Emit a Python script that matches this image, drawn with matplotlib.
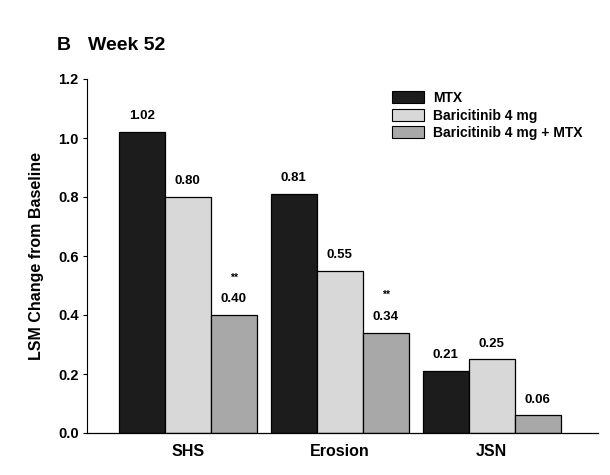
import matplotlib
matplotlib.use("Agg")
import matplotlib.pyplot as plt
import numpy as np
from matplotlib.patches import Patch

plt.rcParams['font.family'] = ['Liberation Sans', 'DejaVu Sans']
plt.rcParams['font.weight'] = 'bold'

categories = ["SHS", "Erosion", "JSN"]
series_names = ["MTX", "Baricitinib 4 mg", "Baricitinib 4 mg + MTX"]
mtx = [1.02, 0.81, 0.21]
bari = [0.80, 0.55, 0.25]
combo = [0.40, 0.34, 0.06]
combo_sig = ["**", "**", ""]
yticks = [0.0, 0.2, 0.4, 0.6, 0.8, 1.0, 1.2]

colors = ["#1c1c1c", "#d8d8d8", "#a8a8a8"]

fig = plt.figure(figsize=(6.1, 4.75), dpi=100)
ax = fig.add_axes([87/610, 1 - 433/475, (598-87)/610, (433-79)/475])

x = np.arange(len(categories))
w = 0.303
series = [mtx, bari, combo]
for i, (vals, c) in enumerate(zip(series, colors)):
    bars = ax.bar(x + (i - 1) * w, vals, w, color=c, edgecolor="black", linewidth=0.9)
    for j, b in enumerate(bars):
        v = vals[j]
        ax.text(b.get_x() + b.get_width() / 2, v + 0.033, f"{v:.2f}",
                ha="center", va="bottom", fontsize=9.5, fontweight="bold")
        if i == 2 and combo_sig[j]:
            ax.text(b.get_x() + b.get_width() / 2, v + 0.11, combo_sig[j],
                    ha="center", va="bottom", fontsize=7.5, fontweight="bold")

ax.set_xlim(-0.664, 2.70)
ax.set_ylim(0, 1.2)
ax.set_yticks(yticks)
ax.set_yticklabels([f"{t:.1f}" for t in yticks], fontsize=10.5, fontweight="bold")
ax.set_xticks(x)
ax.set_xticklabels(categories, fontsize=11.5, fontweight="bold")
ax.tick_params(axis="x", length=0, pad=8)
ax.tick_params(axis="y", length=3, width=0.8, pad=3)
ax.spines["top"].set_visible(False)
ax.spines["right"].set_visible(False)
ax.spines["left"].set_linewidth(0.8)
ax.spines["bottom"].set_linewidth(0.9)
ax.set_ylabel("LSM Change from Baseline", fontsize=11.5, fontweight="bold", labelpad=10)

handles = [Patch(facecolor=c, edgecolor="black", linewidth=0.8) for c in colors]
ax.legend(handles, series_names, loc="upper left", bbox_to_anchor=(0.597, 0.966),
          frameon=False, handlelength=2.3, handleheight=1.0,
          labelspacing=0.25, handletextpad=0.65, borderaxespad=0, borderpad=0,
          prop={"weight": "bold", "size": 10})

fig.text(57/610, 1 - 45/475, "B", fontsize=14, fontweight="bold", va="center", ha="left")
fig.text(88/610, 1 - 45/475, "Week 52", fontsize=14, fontweight="bold", va="center", ha="left")

fig.savefig("out.png", dpi=100)
